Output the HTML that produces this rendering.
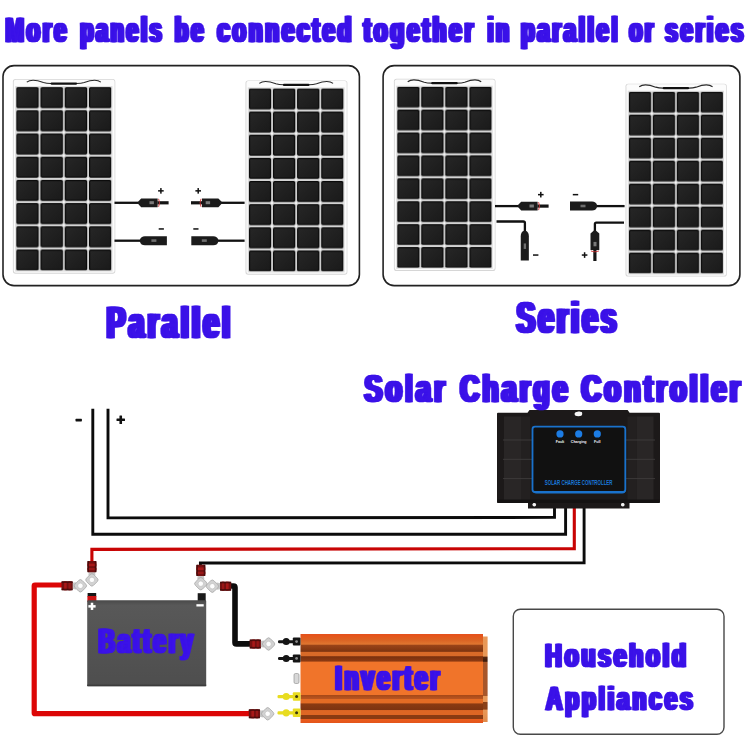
<!DOCTYPE html>
<html>
<head>
<meta charset="utf-8">
<title>Solar panel wiring</title>
<style>
html,body{margin:0;padding:0;background:#fff;}
body{width:750px;height:750px;overflow:hidden;font-family:"Liberation Sans",sans-serif;}
svg{display:block;}
.t{font-family:"Liberation Sans",sans-serif;font-weight:bold;fill:#3a14e8;stroke:#3a14e8;stroke-linejoin:miter;stroke-miterlimit:1.5;}
.k{font-family:"Liberation Sans",sans-serif;font-weight:bold;fill:#111;}
</style>
</head>
<body>
<svg width="750" height="750" viewBox="0 0 750 750">
<defs>
  <filter id="noaa" x="0" y="0" width="750" height="750" filterUnits="userSpaceOnUse"><feOffset dx="0" dy="0"/></filter>
  <linearGradient id="cellg" x1="0" y1="0" x2="1" y2="1">
    <stop offset="0" stop-color="#262626"/><stop offset="1" stop-color="#1a1a1a"/>
  </linearGradient>
  <pattern id="cells" x="0" y="0" width="24.070" height="23.200" patternUnits="userSpaceOnUse">
    <rect x="0" y="0" width="24.070" height="23.200" fill="#d2d2d2"/>
    <rect x="0" y="0" width="22.300" height="21" rx="1.600" fill="#0a0a0a"/>
    <rect x="1.200" y="1.200" width="19.900" height="18.600" rx="1" fill="url(#cellg)"/>
    <circle cx="23.185" cy="22.100" r="1.250" fill="#f6f6f6"/>
  </pattern>
  <g id="panel">
    <rect x="-3.300" y="-8" width="101.600" height="194.600" rx="2.600" fill="#d6d6d6"/>
    <rect x="-2.400" y="-7.400" width="100" height="193.100" rx="2" fill="#fcfcfc"/>
    <rect x="-1" y="-1" width="96.500" height="185.400" fill="#dcdcdc"/>
    <rect x="0" y="0" width="94.510" height="183.400" fill="url(#cells)"/>
    <path d="M10.500,-5 C15,-8.600 22,-6.500 27,-4.600 C30,-3.600 32,-3.600 34.500,-3.600 L60,-3.600 C62.500,-3.600 64.500,-3.600 67.500,-4.600 C72.500,-6.500 79.500,-8.600 84,-5" fill="none" stroke="#2a2a2a" stroke-width="1.100"/>
    <rect x="34" y="-4.700" width="26.500" height="2.300" rx="1.100" fill="#111"/>
  </g>

  <g id="mc4m">
    <path d="M0,-1 L3.2,-4.4 L19.6,-4.4 L19.6,4.4 L3.2,4.4 L0,1 Z" fill="#1b1b1b"/>
    <rect x="19.4" y="-1.6" width="11.2" height="3.2" fill="#141414"/>
    <path d="M20.6,-4 Q22.4,0 20.6,4" fill="none" stroke="#c83232" stroke-width="0.9"/>
    <rect x="11.5" y="-1.6" width="4.4" height="3" fill="#7a7a7a"/>
  </g>
  <g id="mc4f">
    <path d="M0,-1 Q1,-4.5 5,-4.5 L27,-4.5 L27,4.5 L5,4.5 Q1,4.500 0,1 Z" fill="#1b1b1b"/>
    <rect x="11.5" y="-1.4" width="5" height="2.6" fill="#6e6e6e"/>
  </g>
  <g id="lug">
    <path d="M10.500,-3 L14.500,-3.600 L14.500,3.600 L10.500,3 Z" fill="#c6c6c6"/>
    <rect x="13.900" y="-5" width="10" height="10" rx="2.300" transform="rotate(45 18.900 0)" fill="#d2d2d2" stroke="#a4a4a4" stroke-width="0.700"/>
    <circle cx="18.900" cy="0" r="2.700" fill="#fdfdfd" stroke="#b0b0b0" stroke-width="0.500"/>
    <rect x="0" y="-4.500" width="11.200" height="9" rx="1" fill="#741010"/>
    <rect x="2.600" y="-4.500" width="2.600" height="9" fill="#a81818"/>
    <rect x="7" y="-4.500" width="2.200" height="9" fill="#981616"/>
    <rect x="0" y="-4.500" width="11.200" height="1.600" fill="#3a0a0a" opacity="0.750"/>
    <rect x="0" y="2.900" width="11.200" height="1.600" fill="#3a0a0a" opacity="0.750"/>
  </g>
</defs>
<rect x="0" y="0" width="750" height="750" fill="#ffffff"/>

<!-- TITLE -->

<!-- PARALLEL BOX -->
<rect x="3" y="65.6" width="356.4" height="220" rx="11" fill="#fff" stroke="#222" stroke-width="1.6"/>
<use href="#panel" transform="translate(16.200,87.100) scale(1.008,1)"/>
<use href="#panel" transform="translate(248.800,88.400) scale(1.003,0.998)"/>

<!-- SERIES BOX -->
<rect x="383.1" y="65.6" width="356.8" height="220" rx="11" fill="#fff" stroke="#222" stroke-width="1.6"/>
<use href="#panel" transform="translate(397.200,86.700) scale(1,0.9875)"/>
<use href="#panel" transform="translate(628.800,91.700) scale(0.997,0.991)"/>

<!-- LABELS -->

<!-- PARALLEL CONNECTORS -->
<g stroke="#111" stroke-width="2.300" fill="none">
<path d="M114.5,202.800 H139"/><path d="M114.500,240.700 H141"/>
<path d="M244.600,202.800 H221"/><path d="M244.600,240.700 H217.500"/>
</g>
<use href="#mc4m" transform="translate(138,202.800)"/>
<use href="#mc4f" transform="translate(139.900,240.700)"/>
<use href="#mc4m" transform="translate(221.600,202.800) scale(-1,1)"/>
<use href="#mc4f" transform="translate(218.300,240.700) scale(-1,1)"/>
<g fill="#111">
<rect x="158.100" y="190.100" width="5.600" height="1.500"/><rect x="160.150" y="188.050" width="1.500" height="5.600"/>
<rect x="195.400" y="190.100" width="5.600" height="1.500"/><rect x="197.450" y="188.050" width="1.500" height="5.600"/>
<rect x="158.700" y="228.200" width="5.200" height="1.500"/>
<rect x="193.300" y="228.200" width="5.200" height="1.500"/>
</g>

<!-- SERIES CONNECTORS -->
<g stroke="#111" stroke-width="2.300" fill="none">
<path d="M495,206.100 H519"/>
<path d="M496.500,221.500 H523.300 Q524.900,221.500 524.900,223.100 V232"/>
<path d="M624.600,206.100 H596"/>
<path d="M624,222.600 H596.300 Q594.900,222.600 594.900,224 V231"/>
</g>
<use href="#mc4m" transform="translate(518,206.100)"/>
<use href="#mc4f" transform="translate(524.800,230.800) rotate(90) scale(1.1,0.9)"/>
<use href="#mc4f" transform="translate(597,206.100) scale(-1,1)"/>
<use href="#mc4m" transform="translate(594.900,230.400) rotate(90)"/>
<g fill="#111">
<rect x="538" y="193.900" width="5.600" height="1.500"/><rect x="540.050" y="191.850" width="1.500" height="5.600"/>
<rect x="572.800" y="193.900" width="5.400" height="1.500"/>
<rect x="533" y="254.300" width="5.400" height="1.500"/>
<rect x="581.800" y="254.300" width="5.600" height="1.500"/><rect x="583.850" y="252.250" width="1.500" height="5.600"/>
</g>

<!-- SOLAR CHARGE CONTROLLER LABEL -->

<!-- WIRES -->
<g fill="none" stroke-width="2.900" stroke-linejoin="miter">
<path d="M92.800,408.700 V534.200 H565.600 V506" stroke="#0b0b0b"/>
<path d="M108,408.700 V517.900 L554.500,517.400 V506" stroke="#0b0b0b"/>
<path d="M91.900,562 V549.400 L574.300,548.700 V506" stroke="#c80404" stroke-width="3.100"/>
<path d="M200.400,567 V563 L584.100,562.800 V506" stroke="#0b0b0b"/>
</g>
<g fill="#111">
<rect x="75.500" y="418.800" width="6.400" height="2.600" rx="0.600"/>
<rect x="116.500" y="418.500" width="8.500" height="2.600" rx="0.500"/><rect x="119.450" y="415.550" width="2.600" height="8.500" rx="0.500"/>
</g>

<!-- CONTROLLER -->
<g id="ctrl">
<path d="M498,412.700 H527.500 L529.500,410 H627.600 L629.600,412.700 H659 Q660,412.700 660,413.700 V502 Q660,503 659,503 H629.500 V508.500 H528 V503 H498 Q497,503 497,502 V413.700 Q497,412.700 498,412.700 Z" fill="#1c1919"/>
<rect x="504" y="416.500" width="17" height="84" fill="#292626"/>
<rect x="521" y="416.500" width="9" height="84" fill="#232020"/>
<rect x="636.500" y="416.500" width="17" height="84" fill="#292626"/>
<rect x="627.500" y="416.500" width="9" height="84" fill="#232020"/>
<g stroke="#403c3c" stroke-width="0.900">
<path d="M503,440 H532 M503,459.300 H532 M503,478.600 H532"/>
<path d="M626,440 H655 M626,459.300 H655 M626,478.600 H655"/>
</g>
<rect x="497.500" y="499.500" width="162" height="3.500" fill="#141212"/>
<rect x="533.800" y="427.600" width="91" height="64.800" rx="2.600" fill="#1b1818" stroke="#1a74cc" stroke-width="2"/>
<circle cx="560" cy="434" r="3.900" fill="#1c78e0"/>
<circle cx="578.800" cy="434" r="3.900" fill="#1c78e0"/>
<circle cx="597.200" cy="434" r="3.900" fill="#1c78e0"/>
<g font-family="Liberation Sans" font-weight="bold" font-size="3.900" fill="#fafafa" stroke="#fafafa" stroke-width="0.250">
<text x="556.400" y="443" textLength="7.300" lengthAdjust="spacingAndGlyphs">Fault</text><text x="572" y="443" textLength="13.700" lengthAdjust="spacingAndGlyphs">Charging</text><text x="594.300" y="443" textLength="5.800" lengthAdjust="spacingAndGlyphs">Full</text>
</g>
<text x="544.400" y="485.400" font-family="Liberation Sans" font-weight="bold" font-size="7.600" fill="#1a76d0" stroke="#1a76d0" stroke-width="0.350" textLength="68.800" lengthAdjust="spacingAndGlyphs">SOLAR CHARGE CONTROLLER</text>
<ellipse cx="578.400" cy="414" rx="3.800" ry="2.200" fill="#f6f6f6"/>
<circle cx="534.300" cy="504.800" r="1.800" fill="#f4f4f4"/>
<circle cx="622.800" cy="504.800" r="1.800" fill="#f4f4f4"/>
</g>
<rect x="532.500" y="426.700" width="92.800" height="65.300" rx="2.500" fill="#111" stroke="#1a72cc" stroke-width="1.800"/>
<circle cx="560" cy="433.900" r="3.600" fill="#1c7ce4"/>
<circle cx="578.700" cy="433.900" r="3.600" fill="#1c7ce4"/>
<circle cx="597.300" cy="433.900" r="3.600" fill="#1c7ce4"/>
<g font-family="Liberation Sans" font-weight="bold" font-size="3.600" fill="#f4f4f4" text-anchor="middle">
<text x="560" y="442.900">Fault</text><text x="578.700" y="442.900">Charging</text><text x="597.300" y="442.900">Full</text>
</g>
<text x="544.800" y="485.400" font-family="Liberation Sans" font-weight="bold" font-size="7.200" fill="#1a78d8" textLength="67.700" lengthAdjust="spacingAndGlyphs">SOLAR CHARGE CONTROLLER</text>
<ellipse cx="579.200" cy="413.300" rx="3" ry="1.800" fill="#f4f4f4"/>
<circle cx="534.200" cy="504.600" r="1.400" fill="#f2f2f2"/>
<circle cx="622.700" cy="504.600" r="1.400" fill="#f2f2f2"/>
</g>

<!-- BATTERY WIRING -->
<g fill="none" stroke-width="5.200" stroke-linejoin="round">
<path d="M62,585 H35 Q34.200,585 34.200,585.800 V712.900 Q34.200,713.700 35,713.700 H251" stroke="#dc0606"/>
<path d="M230,586 H233.500 Q235,586 235,587.500 V642.400 Q235,643.900 236.500,643.900 H251" stroke="#0d0d0d" stroke-width="5.600"/>
</g>
<use href="#lug" transform="translate(61.500,585.800)"/>
<use href="#lug" transform="translate(91.900,561) rotate(90)"/>
<use href="#lug" transform="translate(200.800,564.800) rotate(90)"/>
<use href="#lug" transform="translate(231.200,586.200) scale(-1,1)"/>
<use href="#lug" transform="translate(249.700,644)"/>
<use href="#lug" transform="translate(248.800,713.800)"/>

<!-- BATTERY -->
<defs><linearGradient id="batg" x1="0" y1="0" x2="0" y2="1"><stop offset="0" stop-color="#4a4a4a"/><stop offset="0.060" stop-color="#585858"/><stop offset="1" stop-color="#4e4e4e"/></linearGradient></defs>
<rect x="87.600" y="593" width="8.600" height="3.600" fill="#151515"/>
<rect x="87.400" y="596" width="9" height="6" fill="#cc1212"/>
<rect x="197.700" y="593.200" width="8" height="8" fill="#1a1a1a"/>
<rect x="87.200" y="600.300" width="119" height="85.900" rx="0.800" fill="url(#batg)"/>
<rect x="87.200" y="684.600" width="119" height="1.600" fill="#3c3c3c"/>
<g fill="#fff">
<rect x="88.400" y="605.100" width="7.200" height="2.500"/><rect x="90.750" y="602.750" width="2.500" height="7.200"/>
<rect x="196.400" y="604.200" width="7.300" height="2.300"/>
</g>

<!-- INVERTER -->
<defs><linearGradient id="invg" x1="0" y1="0" x2="0" y2="1">
<stop offset="0" stop-color="#e4501c"/>
<stop offset="0.030" stop-color="#e4581c"/>
<stop offset="0.070" stop-color="#da6424"/>
<stop offset="0.115" stop-color="#e07630"/>
<stop offset="0.125" stop-color="#9a4418"/>
<stop offset="0.195" stop-color="#7e3410"/>
<stop offset="0.205" stop-color="#d86a28"/>
<stop offset="0.245" stop-color="#d86a28"/>
<stop offset="0.255" stop-color="#7a300e"/>
<stop offset="0.305" stop-color="#8c3a12"/>
<stop offset="0.315" stop-color="#f0742a"/>
<stop offset="0.680" stop-color="#f0742a"/>
<stop offset="0.690" stop-color="#a84a18"/>
<stop offset="0.725" stop-color="#b85420"/>
<stop offset="0.735" stop-color="#e46c24"/>
<stop offset="0.775" stop-color="#e46c24"/>
<stop offset="0.785" stop-color="#8a3a12"/>
<stop offset="0.850" stop-color="#7e3410"/>
<stop offset="0.860" stop-color="#de6624"/>
<stop offset="0.905" stop-color="#de6624"/>
<stop offset="0.915" stop-color="#8a3a12"/>
<stop offset="0.950" stop-color="#8a3a12"/>
<stop offset="0.960" stop-color="#e85c1c"/>
<stop offset="1" stop-color="#e4541a"/>
</linearGradient></defs>
<defs><linearGradient id="invs" x1="0" y1="0" x2="0" y2="1">
<stop offset="0" stop-color="#e89858"/><stop offset="0.230" stop-color="#e89858"/>
<stop offset="0.240" stop-color="#5a2810"/><stop offset="0.290" stop-color="#3a1a0c"/>
<stop offset="0.300" stop-color="#a8562a"/><stop offset="0.690" stop-color="#a8562a"/>
<stop offset="0.700" stop-color="#e89858"/><stop offset="0.760" stop-color="#e89858"/>
<stop offset="0.770" stop-color="#8a4018"/><stop offset="0.850" stop-color="#8a4018"/>
<stop offset="0.860" stop-color="#e89858"/><stop offset="1" stop-color="#e08a4a"/>
</linearGradient></defs>
<rect x="482" y="636.500" width="5.600" height="85.500" fill="url(#invs)"/>
<rect x="300.500" y="634" width="182.500" height="89" fill="url(#invg)"/>
<!-- inverter terminals -->
<g fill="#151515">
<circle cx="286.200" cy="641.600" r="3.500"/><rect x="278" y="640.200" width="18" height="3" rx="1.200"/><rect x="292.800" y="637.600" width="7.700" height="8" rx="1"/>
<circle cx="286.200" cy="658.400" r="3.500"/><rect x="278" y="657" width="18" height="3" rx="1.200"/><rect x="292.800" y="654.400" width="7.700" height="8" rx="1"/>
</g>
<g fill="#e8dc20">
<circle cx="286.200" cy="696.500" r="3.600"/><rect x="277.500" y="695" width="18.500" height="3.200" rx="1.200"/><rect x="292.800" y="692.200" width="7.700" height="8.600" rx="1"/>
<circle cx="286.200" cy="712.800" r="3.600"/><rect x="277.500" y="711.300" width="18.500" height="3.200" rx="1.200"/><rect x="292.800" y="708.500" width="7.700" height="8.600" rx="1"/>
</g>
<circle cx="296.600" cy="641.600" r="1.400" fill="#8c8c8c"/><circle cx="296.600" cy="658.400" r="1.400" fill="#8c8c8c"/><circle cx="296.600" cy="696.500" r="1.500" fill="#3a3610"/><circle cx="296.600" cy="712.800" r="1.500" fill="#3a3610"/>
<rect x="294" y="673.500" width="5" height="10" rx="1.500" fill="#d8d8d8" stroke="#888" stroke-width="0.600"/>

<!-- HOUSEHOLD APPLIANCES -->
<rect x="513.300" y="609.300" width="210.700" height="125" rx="7" fill="#fff" stroke="#484848" stroke-width="1.400"/>
<g font-family="Liberation Sans" font-weight="bold" fill="#3b12e8" stroke="#3b12e8" stroke-width="0.5" stroke-linejoin="miter" filter="url(#noaa)">
<text x="3.68" y="42.05" font-size="35.01" letter-spacing="4.40" textLength="63.63" lengthAdjust="spacingAndGlyphs">More</text>
<text x="4.60" y="42.05" font-size="35.01" letter-spacing="4.40" textLength="63.63" lengthAdjust="spacingAndGlyphs">More</text>
<text x="5.51" y="42.05" font-size="35.01" letter-spacing="4.40" textLength="63.63" lengthAdjust="spacingAndGlyphs">More</text>
<text x="6.43" y="42.05" font-size="35.01" letter-spacing="4.40" textLength="63.63" lengthAdjust="spacingAndGlyphs">More</text>
<text x="7.35" y="42.05" font-size="35.01" letter-spacing="4.40" textLength="63.63" lengthAdjust="spacingAndGlyphs">More</text>
<text x="78.49" y="42.05" font-size="35.01" letter-spacing="4.40" textLength="83.95" lengthAdjust="spacingAndGlyphs">panels</text>
<text x="79.41" y="42.05" font-size="35.01" letter-spacing="4.40" textLength="83.95" lengthAdjust="spacingAndGlyphs">panels</text>
<text x="80.32" y="42.05" font-size="35.01" letter-spacing="4.40" textLength="83.95" lengthAdjust="spacingAndGlyphs">panels</text>
<text x="81.24" y="42.05" font-size="35.01" letter-spacing="4.40" textLength="83.95" lengthAdjust="spacingAndGlyphs">panels</text>
<text x="82.16" y="42.05" font-size="35.01" letter-spacing="4.40" textLength="83.95" lengthAdjust="spacingAndGlyphs">panels</text>
<text x="173.06" y="42.05" font-size="35.01" letter-spacing="4.40" textLength="31.32" lengthAdjust="spacingAndGlyphs">be</text>
<text x="173.98" y="42.05" font-size="35.01" letter-spacing="4.40" textLength="31.32" lengthAdjust="spacingAndGlyphs">be</text>
<text x="174.90" y="42.05" font-size="35.01" letter-spacing="4.40" textLength="31.32" lengthAdjust="spacingAndGlyphs">be</text>
<text x="175.81" y="42.05" font-size="35.01" letter-spacing="4.40" textLength="31.32" lengthAdjust="spacingAndGlyphs">be</text>
<text x="176.73" y="42.05" font-size="35.01" letter-spacing="4.40" textLength="31.32" lengthAdjust="spacingAndGlyphs">be</text>
<text x="215.48" y="42.05" font-size="35.01" letter-spacing="4.40" textLength="136.84" lengthAdjust="spacingAndGlyphs">connected</text>
<text x="216.40" y="42.05" font-size="35.01" letter-spacing="4.40" textLength="136.84" lengthAdjust="spacingAndGlyphs">connected</text>
<text x="217.31" y="42.05" font-size="35.01" letter-spacing="4.40" textLength="136.84" lengthAdjust="spacingAndGlyphs">connected</text>
<text x="218.23" y="42.05" font-size="35.01" letter-spacing="4.40" textLength="136.84" lengthAdjust="spacingAndGlyphs">connected</text>
<text x="219.15" y="42.05" font-size="35.01" letter-spacing="4.40" textLength="136.84" lengthAdjust="spacingAndGlyphs">connected</text>
<text x="361.74" y="42.05" font-size="35.01" letter-spacing="4.40" textLength="112.53" lengthAdjust="spacingAndGlyphs">together</text>
<text x="362.66" y="42.05" font-size="35.01" letter-spacing="4.40" textLength="112.53" lengthAdjust="spacingAndGlyphs">together</text>
<text x="363.57" y="42.05" font-size="35.01" letter-spacing="4.40" textLength="112.53" lengthAdjust="spacingAndGlyphs">together</text>
<text x="364.49" y="42.05" font-size="35.01" letter-spacing="4.40" textLength="112.53" lengthAdjust="spacingAndGlyphs">together</text>
<text x="365.41" y="42.05" font-size="35.01" letter-spacing="4.40" textLength="112.53" lengthAdjust="spacingAndGlyphs">together</text>
<text x="485.81" y="42.05" font-size="35.01" letter-spacing="4.40" textLength="23.95" lengthAdjust="spacingAndGlyphs">in</text>
<text x="486.73" y="42.05" font-size="35.01" letter-spacing="4.40" textLength="23.95" lengthAdjust="spacingAndGlyphs">in</text>
<text x="487.65" y="42.05" font-size="35.01" letter-spacing="4.40" textLength="23.95" lengthAdjust="spacingAndGlyphs">in</text>
<text x="488.56" y="42.05" font-size="35.01" letter-spacing="4.40" textLength="23.95" lengthAdjust="spacingAndGlyphs">in</text>
<text x="489.48" y="42.05" font-size="35.01" letter-spacing="4.40" textLength="23.95" lengthAdjust="spacingAndGlyphs">in</text>
<text x="519.37" y="42.05" font-size="35.01" letter-spacing="4.40" textLength="99.22" lengthAdjust="spacingAndGlyphs">parallel</text>
<text x="520.29" y="42.05" font-size="35.01" letter-spacing="4.40" textLength="99.22" lengthAdjust="spacingAndGlyphs">parallel</text>
<text x="521.21" y="42.05" font-size="35.01" letter-spacing="4.40" textLength="99.22" lengthAdjust="spacingAndGlyphs">parallel</text>
<text x="522.13" y="42.05" font-size="35.01" letter-spacing="4.40" textLength="99.22" lengthAdjust="spacingAndGlyphs">parallel</text>
<text x="523.04" y="42.05" font-size="35.01" letter-spacing="4.40" textLength="99.22" lengthAdjust="spacingAndGlyphs">parallel</text>
<text x="627.46" y="42.05" font-size="35.01" letter-spacing="4.40" textLength="26.52" lengthAdjust="spacingAndGlyphs">or</text>
<text x="628.38" y="42.05" font-size="35.01" letter-spacing="4.40" textLength="26.52" lengthAdjust="spacingAndGlyphs">or</text>
<text x="629.30" y="42.05" font-size="35.01" letter-spacing="4.40" textLength="26.52" lengthAdjust="spacingAndGlyphs">or</text>
<text x="630.22" y="42.05" font-size="35.01" letter-spacing="4.40" textLength="26.52" lengthAdjust="spacingAndGlyphs">or</text>
<text x="631.13" y="42.05" font-size="35.01" letter-spacing="4.40" textLength="26.52" lengthAdjust="spacingAndGlyphs">or</text>
<text x="663.59" y="42.05" font-size="35.01" letter-spacing="4.40" textLength="80.71" lengthAdjust="spacingAndGlyphs">series</text>
<text x="664.50" y="42.05" font-size="35.01" letter-spacing="4.40" textLength="80.71" lengthAdjust="spacingAndGlyphs">series</text>
<text x="665.42" y="42.05" font-size="35.01" letter-spacing="4.40" textLength="80.71" lengthAdjust="spacingAndGlyphs">series</text>
<text x="666.34" y="42.05" font-size="35.01" letter-spacing="4.40" textLength="80.71" lengthAdjust="spacingAndGlyphs">series</text>
<text x="667.26" y="42.05" font-size="35.01" letter-spacing="4.40" textLength="80.71" lengthAdjust="spacingAndGlyphs">series</text>
<text x="104.45" y="338.05" font-size="44.24" letter-spacing="5.54" textLength="126.73" lengthAdjust="spacingAndGlyphs">Parallel</text>
<text x="105.60" y="338.05" font-size="44.24" letter-spacing="5.54" textLength="126.73" lengthAdjust="spacingAndGlyphs">Parallel</text>
<text x="106.76" y="338.05" font-size="44.24" letter-spacing="5.54" textLength="126.73" lengthAdjust="spacingAndGlyphs">Parallel</text>
<text x="107.91" y="338.05" font-size="44.24" letter-spacing="5.54" textLength="126.73" lengthAdjust="spacingAndGlyphs">Parallel</text>
<text x="109.07" y="338.05" font-size="44.24" letter-spacing="5.54" textLength="126.73" lengthAdjust="spacingAndGlyphs">Parallel</text>
<text x="514.38" y="332.75" font-size="44.67" letter-spacing="5.59" textLength="103.02" lengthAdjust="spacingAndGlyphs">Series</text>
<text x="515.55" y="332.75" font-size="44.67" letter-spacing="5.59" textLength="103.02" lengthAdjust="spacingAndGlyphs">Series</text>
<text x="516.71" y="332.75" font-size="44.67" letter-spacing="5.59" textLength="103.02" lengthAdjust="spacingAndGlyphs">Series</text>
<text x="517.88" y="332.75" font-size="44.67" letter-spacing="5.59" textLength="103.02" lengthAdjust="spacingAndGlyphs">Series</text>
<text x="519.04" y="332.75" font-size="44.67" letter-spacing="5.59" textLength="103.02" lengthAdjust="spacingAndGlyphs">Series</text>
<text x="362.38" y="401.85" font-size="39.34" letter-spacing="4.94" textLength="83.53" lengthAdjust="spacingAndGlyphs">Solar</text>
<text x="363.41" y="401.85" font-size="39.34" letter-spacing="4.94" textLength="83.53" lengthAdjust="spacingAndGlyphs">Solar</text>
<text x="364.44" y="401.85" font-size="39.34" letter-spacing="4.94" textLength="83.53" lengthAdjust="spacingAndGlyphs">Solar</text>
<text x="365.47" y="401.85" font-size="39.34" letter-spacing="4.94" textLength="83.53" lengthAdjust="spacingAndGlyphs">Solar</text>
<text x="366.50" y="401.85" font-size="39.34" letter-spacing="4.94" textLength="83.53" lengthAdjust="spacingAndGlyphs">Solar</text>
<text x="458.14" y="401.85" font-size="39.34" letter-spacing="4.94" textLength="110.63" lengthAdjust="spacingAndGlyphs">Charge</text>
<text x="459.17" y="401.85" font-size="39.34" letter-spacing="4.94" textLength="110.63" lengthAdjust="spacingAndGlyphs">Charge</text>
<text x="460.20" y="401.85" font-size="39.34" letter-spacing="4.94" textLength="110.63" lengthAdjust="spacingAndGlyphs">Charge</text>
<text x="461.23" y="401.85" font-size="39.34" letter-spacing="4.94" textLength="110.63" lengthAdjust="spacingAndGlyphs">Charge</text>
<text x="462.26" y="401.85" font-size="39.34" letter-spacing="4.94" textLength="110.63" lengthAdjust="spacingAndGlyphs">Charge</text>
<text x="579.61" y="401.85" font-size="39.34" letter-spacing="4.94" textLength="161.95" lengthAdjust="spacingAndGlyphs">Controller</text>
<text x="580.64" y="401.85" font-size="39.34" letter-spacing="4.94" textLength="161.95" lengthAdjust="spacingAndGlyphs">Controller</text>
<text x="581.66" y="401.85" font-size="39.34" letter-spacing="4.94" textLength="161.95" lengthAdjust="spacingAndGlyphs">Controller</text>
<text x="582.69" y="401.85" font-size="39.34" letter-spacing="4.94" textLength="161.95" lengthAdjust="spacingAndGlyphs">Controller</text>
<text x="583.72" y="401.85" font-size="39.34" letter-spacing="4.94" textLength="161.95" lengthAdjust="spacingAndGlyphs">Controller</text>
<text x="96.70" y="653.05" font-size="35.30" letter-spacing="4.44" textLength="97.08" lengthAdjust="spacingAndGlyphs">Battery</text>
<text x="97.62" y="653.05" font-size="35.30" letter-spacing="4.44" textLength="97.08" lengthAdjust="spacingAndGlyphs">Battery</text>
<text x="98.55" y="653.05" font-size="35.30" letter-spacing="4.44" textLength="97.08" lengthAdjust="spacingAndGlyphs">Battery</text>
<text x="99.47" y="653.05" font-size="35.30" letter-spacing="4.44" textLength="97.08" lengthAdjust="spacingAndGlyphs">Battery</text>
<text x="100.40" y="653.05" font-size="35.30" letter-spacing="4.44" textLength="97.08" lengthAdjust="spacingAndGlyphs">Battery</text>
<text x="333.53" y="690.15" font-size="35.45" letter-spacing="4.46" textLength="106.82" lengthAdjust="spacingAndGlyphs">Inverter</text>
<text x="334.46" y="690.15" font-size="35.45" letter-spacing="4.46" textLength="106.82" lengthAdjust="spacingAndGlyphs">Inverter</text>
<text x="335.39" y="690.15" font-size="35.45" letter-spacing="4.46" textLength="106.82" lengthAdjust="spacingAndGlyphs">Inverter</text>
<text x="336.32" y="690.15" font-size="35.45" letter-spacing="4.46" textLength="106.82" lengthAdjust="spacingAndGlyphs">Inverter</text>
<text x="337.25" y="690.15" font-size="35.45" letter-spacing="4.46" textLength="106.82" lengthAdjust="spacingAndGlyphs">Inverter</text>
<text x="543.57" y="667.05" font-size="33.86" letter-spacing="4.26" textLength="143.46" lengthAdjust="spacingAndGlyphs">Household</text>
<text x="544.46" y="667.05" font-size="33.86" letter-spacing="4.26" textLength="143.46" lengthAdjust="spacingAndGlyphs">Household</text>
<text x="545.35" y="667.05" font-size="33.86" letter-spacing="4.26" textLength="143.46" lengthAdjust="spacingAndGlyphs">Household</text>
<text x="546.24" y="667.05" font-size="33.86" letter-spacing="4.26" textLength="143.46" lengthAdjust="spacingAndGlyphs">Household</text>
<text x="547.12" y="667.05" font-size="33.86" letter-spacing="4.26" textLength="143.46" lengthAdjust="spacingAndGlyphs">Household</text>
<text x="544.26" y="709.75" font-size="32.85" letter-spacing="4.14" textLength="149.59" lengthAdjust="spacingAndGlyphs">Appliances</text>
<text x="545.12" y="709.75" font-size="32.85" letter-spacing="4.14" textLength="149.59" lengthAdjust="spacingAndGlyphs">Appliances</text>
<text x="545.98" y="709.75" font-size="32.85" letter-spacing="4.14" textLength="149.59" lengthAdjust="spacingAndGlyphs">Appliances</text>
<text x="546.85" y="709.75" font-size="32.85" letter-spacing="4.14" textLength="149.59" lengthAdjust="spacingAndGlyphs">Appliances</text>
<text x="547.71" y="709.75" font-size="32.85" letter-spacing="4.14" textLength="149.59" lengthAdjust="spacingAndGlyphs">Appliances</text>
</g>
</svg>
</body>
</html>
